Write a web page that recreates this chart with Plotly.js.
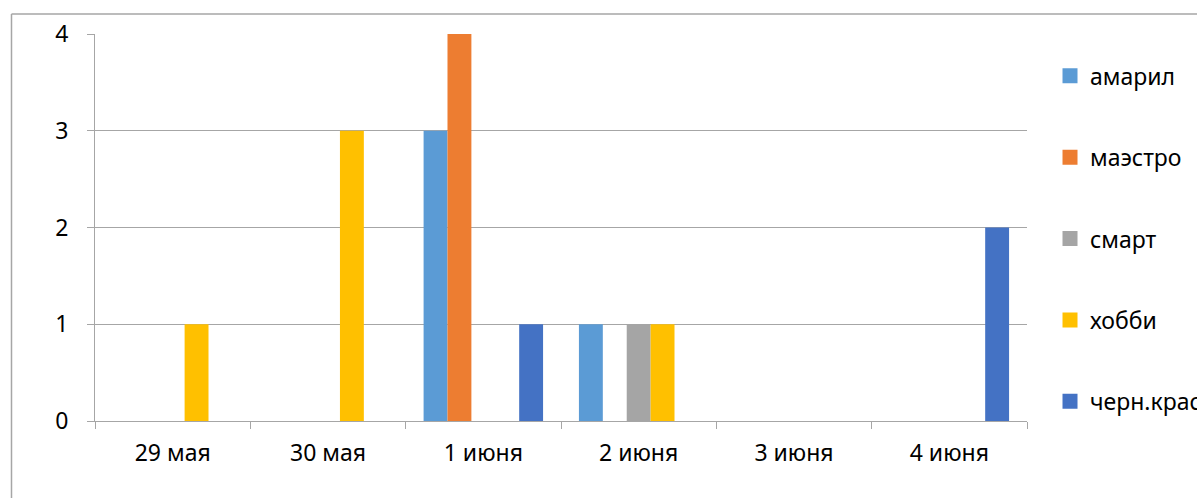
<!DOCTYPE html>
<html><head><meta charset="utf-8">
<script src="https://cdn.plot.ly/plotly-3.0.1.min.js"></script>
<style>html,body{margin:0;padding:0;background:#fff;overflow:hidden}
#chart{width:1197px;height:498px}</style>
</head><body><div id="chart"></div>
<script>
const categories = ["29 мая", "30 мая", "1 июня", "2 июня", "3 июня", "4 июня"];
const seriesNames = ["амарил", "маэстро", "смарт", "хобби", "черн.крас"];
const amaril = [0, 0, 3, 1, 0, 0];
const maestro = [0, 0, 4, 0, 0, 0];
const smart = [0, 0, 0, 1, 0, 0];
const hobby = [1, 3, 0, 1, 0, 0];
const chernKras = [0, 0, 1, 0, 0, 2];
const colors = ["#5B9BD5", "#ED7D31", "#A5A5A5", "#FFC000", "#4472C4"];
const values = [amaril, maestro, smart, hobby, chernKras];

const font = "'Noto Sans', 'Liberation Sans', sans-serif";
const bars = values.map((v, i) => ({
  type: "bar", x: categories, y: v, name: seriesNames[i],
  marker: {color: colors[i], line: {width: 0}},
  legendgroup: "g" + i, showlegend: false, hoverinfo: "x+y+name"
}));
// legend-only proxies (no data drawn) so the legend key is a square like the original
const proxies = seriesNames.map((n, i) => ({
  type: "scatter", mode: "markers", x: [categories[0]], y: [null], name: n,
  marker: {color: colors[i], symbol: "square", size: 15},
  legendgroup: "g" + i, showlegend: true, hoverinfo: "skip"
}));

const frameColor = "#A6A6A6";
const layout = {
  width: 1197, height: 498,
  margin: {l: 95, r: 170, t: 34, b: 77},
  paper_bgcolor: "#fff", plot_bgcolor: "#fff",
  barmode: "group", bargap: 0.2308, bargroupgap: 0,
  font: {family: font, size: 23, color: "#000"},
  xaxis: {
    type: "category", tickson: "boundaries", ticks: "outside", ticklen: 7,
    tickcolor: "#A6A6A6", showline: true, linecolor: "#A6A6A6", linewidth: 1,
    showgrid: false, ticklabelstandoff: 11, tickfont: {size: 23}
  },
  yaxis: {
    range: [0, 4], dtick: 1, ticks: "outside", ticklen: 7, tickcolor: "#A6A6A6",
    showline: true, linecolor: "#A6A6A6", gridcolor: "#A6A6A6", gridwidth: 1,
    zeroline: false, ticklabelstandoff: 14, tickfont: {size: 23}
  },
  showlegend: true,
  legend: {
    xref: "container", yref: "container",
    x: 0.8772, xanchor: "left", y: 0.891, yanchor: "top",
    font: {size: 23, color: "#000"}, tracegroupgap: 48.5, itemwidth: 30,
    traceorder: "grouped", bgcolor: "rgba(0,0,0,0)", itemsizing: "trace",
    maxheight: 490
  },
  shapes: [
    {type: "line", xref: "paper", yref: "paper", x0: -0.0896, x1: -0.0896, y0: -0.2, y1: 1.0517,
     line: {color: frameColor, width: 1.5}, layer: "above"},
    {type: "line", xref: "paper", yref: "paper", x0: -0.0896, x1: 1.19, y0: 1.0517, y1: 1.0517,
     line: {color: frameColor, width: 1.5}, layer: "above"}
  ]
};
Plotly.newPlot("chart", bars.concat(proxies), layout, {displayModeBar: false, staticPlot: true});
</script></body></html>
